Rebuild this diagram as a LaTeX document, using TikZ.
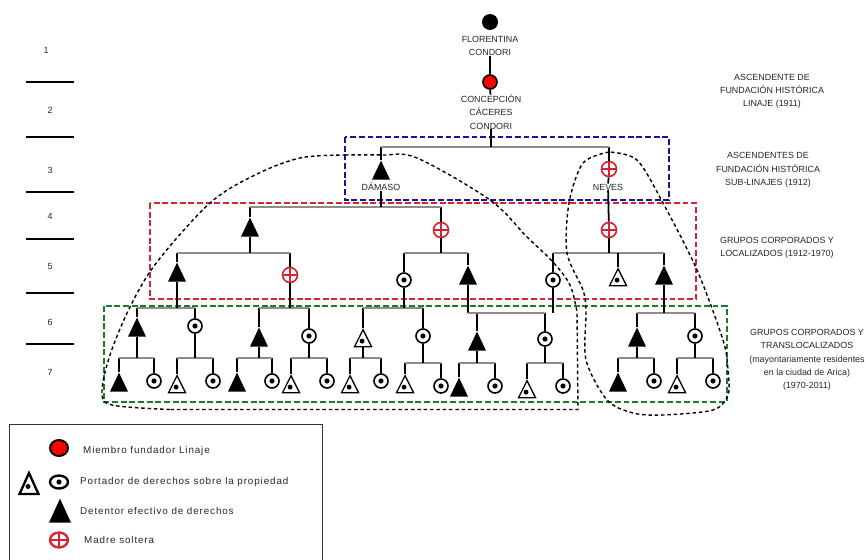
\documentclass[tikz,border=0pt]{standalone}
\usepackage{fontspec}
\setmainfont{Liberation Sans}
\newfontfamily\leyfont[LetterSpace=9]{Liberation Sans}
\usetikzlibrary{shapes.geometric}
\definecolor{azul}{RGB}{20,20,160}
\definecolor{rojo}{RGB}{215,35,45}
\definecolor{verde}{RGB}{25,125,45}
\definecolor{barra}{RGB}{140,140,140}
\tikzset{
	stem/.style={line width=1.5pt,black},
	hbar/.style={line width=1.7pt,barra},
	caja/.style={line width=1.2pt,dash pattern=on 5pt off 2.4pt},
	limite/.style={line width=1.2pt,black,dash pattern=on 3pt off 2.4pt},
	tag/.style={font=\fontsize{7.6}{11.3}\selectfont,align=center,text=black!85,inner sep=0pt},
	ley/.style={font=\leyfont\fontsize{8.4}{10}\selectfont,anchor=west,text=black!85,inner sep=0pt},
	tribase/.style={isosceles triangle,shape border rotate=90,isosceles triangle stretches=true,minimum height=19*.8536pt,minimum width=18*.8536pt,inner sep=0pt,anchor=apex},
	tri/.style={tribase,fill=black},
	trihueco/.style={tribase,draw=black,fill=white,line width=1.1pt,minimum height=17*.8536pt,minimum width=17*.8536pt,
		path picture={\fill[black] ([xshift=-.8pt,yshift=-2.5pt]path picture bounding box.center) circle (2.1pt);}},
	anillo/.style={circle,draw=black,fill=white,line width=1.4pt,minimum size=14*.8536pt,inner sep=0pt,
		path picture={\fill[black] (path picture bounding box.center) circle (2.2pt);}},
	cruz/.style={circle,draw=rojo,fill=white,line width=1.4pt,minimum size=15*.8536pt,inner sep=0pt,
		path picture={\draw[rojo,line width=#1] (path picture bounding box.north) -- (path picture bounding box.south)
			(path picture bounding box.west) -- (path picture bounding box.east);}},
	cruz/.default=1.3pt
}
\newcommand{\grupo}[4]% parent, left child, right child, bar y
{\coordinate (#1j) at (0,#4);
	\draw[stem] (#2) -- (#2 |- #1j);
	\draw[stem] (#3) -- (#3 |- #1j);
	\draw[hbar] (#2 |- #1j) -- (#3 |- #1j);
	\draw[stem] (#1) -- (#1 |- #1j);
}

\begin{document}
\begin{tikzpicture}[x=.03cm,y=-.03cm]
	\useasboundingbox (0,0) rectangle (866,560);
	% generaciones
	\foreach \y in {82,137,192,239,293,344}
		\draw[line width=1.2pt] (26,\y) -- (74,\y);
	\foreach \n/\x/\y in {1/46/50,2/50/110,3/50/170,4/50/216,5/50/266,6/50/322,7/50/372}
		\node (fila\n) [tag] at (\x,\y) {\n};
	% cajas
	\draw[caja,azul] (345,137) rectangle (669,200);
	\draw[caja,rojo] (150,203) rectangle (696,299);
	\draw[caja,verde] (104,306) rectangle (727,402);
	% fundadoras
	\node (flor) [circle,fill=black,minimum size=16*.8536pt,inner sep=0pt] at (490,22) {};
	\node (flort) [tag] at (490,46) {FLORENTINA\\CONDORI};
	\node (conc) [circle,draw=black,fill=red,line width=1.4pt,minimum size=14*.8536pt,inner sep=0pt] at (490,82) {};
	\node (conct) [tag] at (491,112) {CONCEPCIÓN\\CÁCERES\\CONDORI};
	\draw[stem] (flort) -- (conc);
	\draw[stem] (conc) -- (conct);
	% nivel 3
	\node (dam) [tri] at (381,160) {};
	\node (damt) [tag] at (381,187) {DÁMASO};
	\node (nev) [cruz] at (609,169) {};
	\node (nevt) [tag] at (608,187) {NEVES};
	\grupo{conct}{dam}{nev}{147}
	\draw[stem] (nev) -- (nevt);
	% nivel 4
	\node (c41) [tri] at (250,217) {};
	\node (c42) [cruz] at (441,230) {};
	\node (c43) [cruz] at (609,230) {};
	\grupo{damt}{c41}{c42}{207}
	\draw[stem] (nevt) -- (c43);
	% nivel 5
	\node (c51) [tri] at (177,262) {};
	\node (c52) [cruz] at (290,275) {};
	\node (c53) [anillo] at (404,280) {};
	\node (c54) [tri] at (468,265) {};
	\node (c55) [anillo] at (553,280) {};
	\node (c56) [trihueco] at (618,267) {};
	\node (c57) [tri] at (664,265) {};
	\grupo{c41}{c51}{c52}{253}
	\grupo{c42}{c53}{c54}{253}
	\grupo{c43}{c55}{c57}{253}
	\draw[stem] (c56) -- (c56 |- c43j);
	% nivel 6
	\node (c61) [tri] at (137,317) {};
	\node (c62) [anillo] at (195,326) {};
	\node (c63) [tri] at (259,327) {};
	\node (c64) [anillo] at (309,336) {};
	\node (c65) [trihueco] at (363,328) {};
	\node (c66) [anillo] at (423,336) {};
	\node (c67) [tri] at (477,331) {};
	\node (c68) [anillo] at (545,339) {};
	\node (c69) [tri] at (637,327) {};
	\node (c610) [anillo] at (695,336) {};
	\grupo{c51}{c61}{c62}{308}
	\grupo{c52}{c63}{c64}{308}
	\grupo{c53}{c65}{c66}{308}
	\draw[stem] (c54) -- (c54 |- 0,313);
	\grupo{c55}{c67}{c68}{313}
	\draw[hbar] (c54 |- c55j) -- (c67 |- c55j);
	\grupo{c57}{c69}{c610}{313}
	% nivel 7
	\node (c71) [tri] at (119,372) {};
	\node (c72) [anillo] at (154,381) {};
	\node (c73) [trihueco] at (177,374) {};
	\node (c74) [anillo] at (213,381) {};
	\node (c75) [tri] at (237,372) {};
	\node (c76) [anillo] at (272,381) {};
	\node (c77) [trihueco] at (291,374) {};
	\node (c78) [anillo] at (327,381) {};
	\node (c79) [trihueco] at (350,374) {};
	\node (c710) [anillo] at (381,381) {};
	\node (c711) [trihueco] at (405,374) {};
	\node (c712) [anillo] at (441,386) {};
	\node (c713) [tri] at (459,377) {};
	\node (c714) [anillo] at (495,386) {};
	\node (c715) [trihueco] at (527,379) {};
	\node (c716) [anillo] at (563,386) {};
	\node (c717) [tri] at (618,372) {};
	\node (c718) [anillo] at (654,381) {};
	\node (c719) [trihueco] at (677,374) {};
	\node (c720) [anillo] at (713,381) {};
	\grupo{c61}{c71}{c72}{358}
	\grupo{c62}{c73}{c74}{358}
	\grupo{c63}{c75}{c76}{358}
	\grupo{c64}{c77}{c78}{358}
	\grupo{c65}{c79}{c710}{358}
	\grupo{c66}{c711}{c712}{363}
	\grupo{c67}{c713}{c714}{363}
	\grupo{c68}{c715}{c716}{363}
	\grupo{c69}{c717}{c718}{358}
	\grupo{c610}{c719}{c720}{358}
	% limites de grupos
	\draw[limite] plot[smooth,tension=.55] coordinates {(345,155) (383,155) (417,158) (490,200) (527,237) (553,262) (570,285) (577,312)}
		-- (578,409.5) -- (170,409.5);
	\draw[limite] plot[smooth,tension=.55] coordinates {(170,409.5) (112,405) (102,392) (110,355) (130,307) (157,262) (210,203) (255,175) (300,158) (345,155)};
	\draw[limite] plot[smooth,tension=.5] coordinates {(609,152) (583,163) (569,203) (567,253) (583,290) (586,312) (586,360) (607,400) (633,413) (663,415) (713,410) (728,395) (728,370) (723,340) (697,270) (663,203) (637,160) (609,152)};
	% rotulos
	\node (rot1) [tag] at (772,91.5) {ASCENDENTE DE\\FUNDACIÓN HISTÓRICA\\LINAJE (1911)};
	\node (rot2) [tag] at (768,170) {ASCENDENTES DE\\FUNDACIÓN HISTÓRICA\\SUB-LINAJES (1912)};
	\node (rot3) [tag] at (777,248) {GRUPOS CORPORADOS Y\\LOCALIZADOS (1912-1970)};
	\node (rot4) [tag] at (807,360) {GRUPOS CORPORADOS Y\\TRANSLOCALIZADOS\\(mayoritariamente residentes\\en la ciudad de Arica)\\(1970-2011)};
	% leyenda
	\draw[line width=.7pt,black!80] (322,565) -- (322,424) -- (9,424) -- (9,565);
	\node (l1) [ellipse,draw=black,fill=red,line width=1.7pt,minimum width=18*.8536pt,minimum height=16*.8536pt,inner sep=0pt] at (59,448) {};
	\node (l2a) [trihueco,line width=2pt,minimum width=19*.8536pt,minimum height=21*.8536pt] at (29,470) {};
	\node (l2b) [anillo,ellipse,line width=2pt,minimum width=18*.8536pt,minimum height=13*.8536pt] at (59,482) {};
	\node (l3) [tri,minimum width=22*.8536pt,minimum height=24*.8536pt] at (60,498) {};
	\node (l4) [cruz=1.8pt,ellipse,line width=2pt,minimum width=18*.8536pt,minimum height=15*.8536pt] at (59,540) {};
	\node (t1) [ley] at (83,451) {Miembro fundador Linaje};
	\node (t2) [ley] at (80,482) {Portador de derechos sobre la propiedad};
	\node (t3) [ley] at (80,511) {Detentor efectivo de derechos};
	\node (t4) [ley] at (84,540) {Madre soltera};
\end{tikzpicture}
\end{document}
